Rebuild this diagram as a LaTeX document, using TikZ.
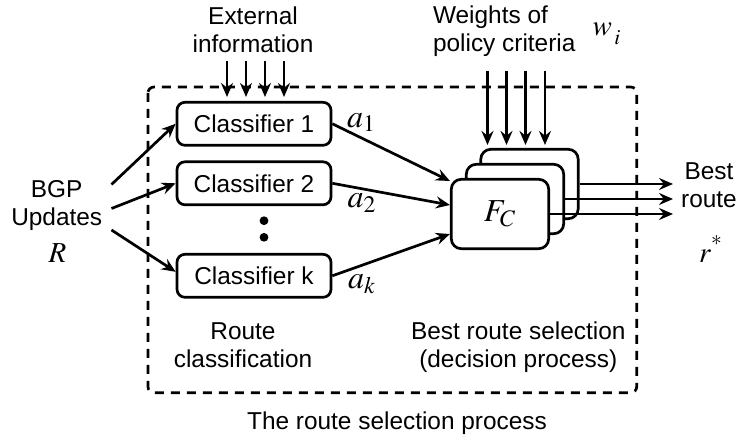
\documentclass[tikz,border=0pt]{standalone}
\usepackage{mathptmx}
\usepackage[no-math]{fontspec}
\setmainfont{Liberation Sans}
\usetikzlibrary{arrows.meta, positioning, calc}

\begin{document}
\begin{tikzpicture}[x=0.5pt, y=-0.5pt, line width=1.35pt,
  txt/.style={inner sep=0pt, align=center, font=\fontsize{12.2}{14}\selectfont},
  mth/.style={inner sep=0pt, font=\fontsize{16}{18}\selectfont},
  mthsmall/.style={inner sep=0pt, font=\fontsize{14.5}{16}\selectfont},
  clsbox/.style={draw, rounded corners=4pt, minimum width=77pt, minimum height=21.5pt, inner sep=0pt, font=\fontsize{12.2}{14}\selectfont},
  fcbox/.style={draw, fill=white, rounded corners=5pt, minimum width=48.7pt, minimum height=34.7pt, inner sep=0pt},
  arr/.style={-{Stealth[length=7pt, width=6pt, inset=2.4pt]}}]
  \useasboundingbox (0,0) rectangle (740,438);

  % The route selection process
  \draw[dash pattern=on 4.5pt off 3.5pt, rounded corners=3pt] (148,87) rectangle (636.7,392.7);

  % Classifiers
  \node[clsbox] (c1) at (254,123.8) {Classifier 1};
  \node[clsbox] (c2) at (254,183.3) {Classifier 2};
  \node[clsbox] (ck) at (254,275.8) {Classifier k};
  \fill (264,220.7) circle (2.2pt) (264,237.3) circle (2.2pt);

  % Decision process (stacked)
  \node[fcbox] (fc3) at (529.5,184) {};
  \node[fcbox] (fc2) at (515,199) {};
  \node[fcbox, font=\fontsize{16}{18}\selectfont] (fc1) at (500,214) {$F_C$};

  % Labels
  \node[txt] (ext) at (253,29.5) {External\\information};
  \node[txt, align=left, anchor=west] (wgt) at (431.7,31) {Weights of\\policy criteria};
  \node[mthsmall] (w) at (607,34) {$w_{\,\raisebox{-2.5pt}{$\scriptstyle i$}}$};
  \node[txt] (bgp) at (56.7,205.5) {BGP\\Updates};
  \node[mthsmall] (R) at (57.5,253) {$R$};
  \node[txt] (best) at (709,185) {Best\\route};
  \node[mthsmall] (rs) at (711,249) {$r^{\raisebox{3pt}{$\scriptstyle *$}}$};
  \node[mth] (a1) at (361.5,122.5) {$a_1$};
  \node[mth] (a2) at (362,203) {$a_2$};
  \node[mth] (ak) at (362,284) {$a_k$};
  \node[txt] (rc) at (243,345) {Route\\classification};
  \node[txt] (brs) at (518.3,347.5) {Best route selection\\(decision process)};
  \node[txt] (title) at (397,423.5) {The route selection process};

  % Inputs
  \draw[arr] ([shift={(8,-21)}]bgp.east) -- (c1.west);
  \draw[arr] ([shift={(8,3)}]bgp.east) -- (c2.west);
  \draw[arr] ([shift={(8,24.5)}]bgp.east) -- ([shift={(0,-4)}]ck.west);
  \foreach \dx in {-27,-8,11,30}
    \draw[arr] ([shift={(\dx,-40)}]c1.north) -- ([shift={(\dx,-4)}]c1.north);
  \foreach \dx in {-42,-23,-4,15.5}
    \draw[arr] ([shift={(\dx,-77)}]fc3.north) -- ([shift={(\dx,-3)}]fc3.north);

  % Classifier outputs
  \draw[arr] (c1.east) -- ([shift={(0,-33)}]fc1.west);
  \draw[arr] (c2.east) -- ([shift={(0,-9)}]fc1.west);
  \draw[arr] (ck.east) -- ([shift={(0,20)}]fc1.west);

  % Best route
  \coordinate (outx) at (673,0);
  \foreach \b in {fc1,fc2,fc3}
    \draw[arr] (\b.east) -- (\b.east -| outx);
\end{tikzpicture}
\end{document}
